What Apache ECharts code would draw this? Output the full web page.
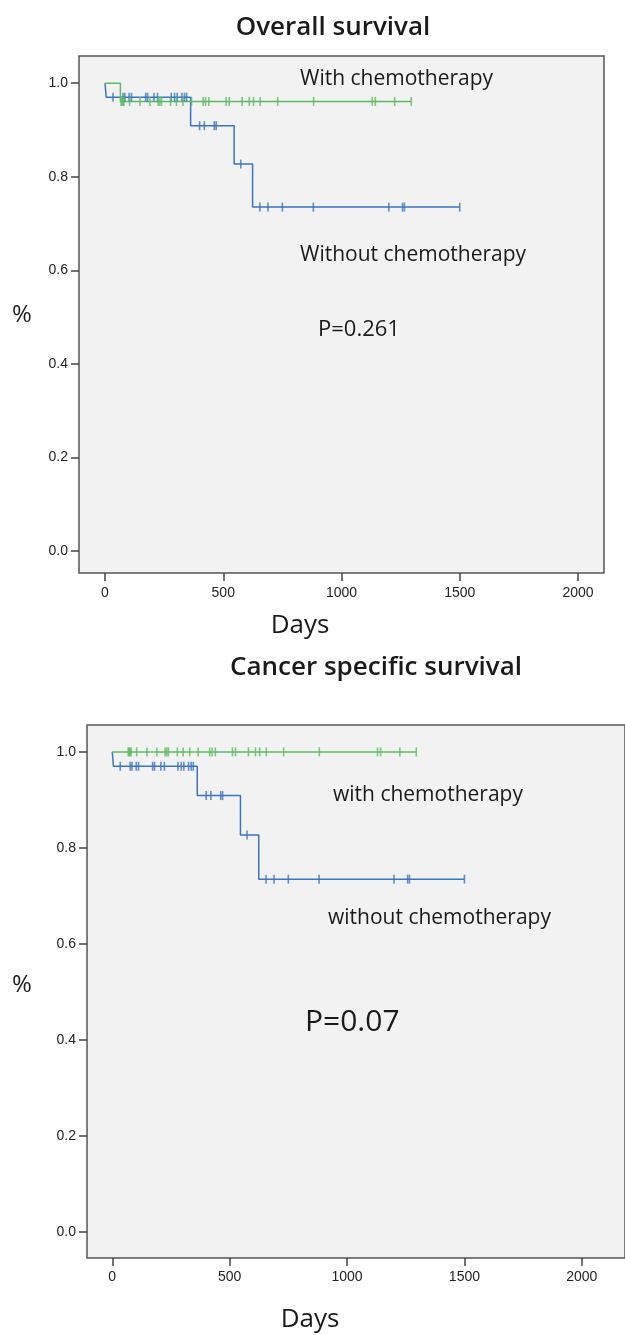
<!DOCTYPE html>
<html>
<head>
<meta charset="utf-8">
<title>Survival curves</title>
<script src="https://cdn.jsdelivr.net/npm/echarts@6.0.0/dist/echarts.min.js"></script>
<style>
  html, body { margin: 0; padding: 0; background: #ffffff; }
  #chart { width: 625px; height: 1335px; }
</style>
</head>
<body>
<div id="chart"></div>
<script>
// Kaplan-Meier steps: [day, survival after the event]
const osWithEvents = [[65, 0.961]];
const osWithoutEvents = [[5, 0.970], [362, 0.909], [546, 0.827], [624, 0.735]];
const cssWithEvents = [];
const cssWithoutEvents = [[5, 0.970], [362, 0.909], [546, 0.827], [624, 0.735]];

// last follow-up day of each group
const withEndDay = 1295;
const withoutEndDay = 1500;

// censored patients (days)
const withCensorDays = [68, 72, 76, 80, 104, 148, 190, 225, 232, 239, 277, 302, 330, 366,
  415, 425, 439, 512, 525, 580, 610, 628, 656, 730, 882, 1130, 1143, 1225, 1295];
const withoutCensorDays = [34, 76, 84, 102, 112, 172, 180, 207, 222, 280, 294, 305, 325, 336, 345,
  400, 420, 462, 470, 574, 655, 689, 750, 881, 1200, 1258, 1266, 1500];

// axis ticks
const xTicks = [0, 500, 1000, 1500, 2000];
const yTicks = [0, 0.2, 0.4, 0.6, 0.8, 1.0];

const blue = '#3b74c2';
const green = '#5dbb63';
const textColor = '#1a1a1a';

function stepData(events, endDay) {
  const pts = [[0, 1]];
  let s = 1;
  events.forEach(function (e) { pts.push([e[0], e[1]]); s = e[1]; });
  pts.push([endDay, s]);
  return pts;
}
function survivalAt(events, day) {
  let s = 1;
  events.forEach(function (e) { if (e[0] <= day) s = e[1]; });
  return s;
}
function censorData(events, days) {
  return days.map(function (d) { return [d, survivalAt(events, d)]; });
}

function xAxis(gridIndex, min, max, margin) {
  return {
    type: 'value', gridIndex: gridIndex, min: min, max: max, position: 'bottom',
    splitLine: { show: false },
    axisLine: { show: false, onZero: false },
    axisTick: { show: true, length: 8, inside: false, customValues: xTicks,
      lineStyle: { color: '#444', width: 1.5 } },
    axisLabel: { customValues: xTicks, margin: margin, color: '#222',
      fontFamily: 'Liberation Sans', fontSize: 14,
      formatter: function (v) { return String(v); } }
  };
}
function yAxis(gridIndex, min, max) {
  return {
    type: 'value', gridIndex: gridIndex, min: min, max: max, position: 'left',
    splitLine: { show: false },
    axisLine: { show: false, onZero: false },
    axisTick: { show: true, length: 8, inside: false, customValues: yTicks,
      lineStyle: { color: '#444', width: 1.5 } },
    axisLabel: { customValues: yTicks, margin: 11, color: '#222',
      fontFamily: 'Liberation Sans', fontSize: 14,
      formatter: function (v) { return v.toFixed(1); } }
  };
}
function curve(idx, events, endDay, color) {
  return {
    type: 'line', xAxisIndex: idx, yAxisIndex: idx, step: 'end',
    data: stepData(events, endDay), showSymbol: false, symbol: 'none',
    lineStyle: { color: color, width: 1.5 }, z: 3, silent: true
  };
}
function censors(idx, events, days, color) {
  return {
    type: 'scatter', xAxisIndex: idx, yAxisIndex: idx,
    data: censorData(events, days), symbol: 'rect', symbolSize: [1.6, 9],
    itemStyle: { color: color }, z: 4, silent: true
  };
}
function label(text, x, y, size, opts) {
  opts = opts || {};
  return {
    type: 'text', x: x, y: y, z: 10,
    style: {
      text: text, fill: textColor, fontSize: size,
      fontFamily: 'Open Sans', fontWeight: opts.weight || 'normal',
      align: opts.align || 'left', verticalAlign: 'middle'
    }
  };
}

const chart = echarts.init(document.getElementById('chart'), null, { renderer: 'canvas' });
chart.setOption({
  animation: false,
  backgroundColor: '#ffffff',
  grid: [
    { left: 79, top: 56, width: 525, height: 517, show: true,
      backgroundColor: '#f2f2f2', borderColor: '#555', borderWidth: 1.5 },
    { left: 87, top: 725, width: 560, height: 533, show: true,
      backgroundColor: '#f2f2f2', borderColor: '#555', borderWidth: 1.5 }
  ],
  xAxis: [xAxis(0, -110, 2110, 13), xAxis(1, -107.6, 2184, 12)],
  yAxis: [yAxis(0, -0.047, 1.058), yAxis(1, -0.054, 1.056)],
  series: [
    curve(0, osWithoutEvents, withoutEndDay, blue),
    curve(0, osWithEvents, withEndDay, green),
    censors(0, osWithoutEvents, withoutCensorDays, blue),
    censors(0, osWithEvents, withCensorDays, green),
    curve(1, cssWithoutEvents, withoutEndDay, blue),
    curve(1, cssWithEvents, withEndDay, green),
    censors(1, cssWithoutEvents, withoutCensorDays, blue),
    censors(1, cssWithEvents, withCensorDays, green)
  ],
  graphic: [
    label('Overall survival', 333, 28, 26, { align: 'center', weight: 600 }),
    label('With chemotherapy', 300, 79, 21),
    label('Without chemotherapy', 300, 255, 21),
    label('P=0.261', 318, 330, 22),
    label('%', 22, 315, 24, { align: 'center' }),
    label('Days', 300, 626, 26, { align: 'center' }),

    label('Cancer specific survival', 376, 668, 26, { align: 'center', weight: 600 }),
    label('with chemotherapy', 333, 795, 21),
    label('without chemotherapy', 328, 918, 21),
    label('P=0.07', 305, 1022, 30),
    label('%', 22, 985, 24, { align: 'center' }),
    label('Days', 310, 1320, 26, { align: 'center' })
  ]
});
</script>
</body>
</html>
